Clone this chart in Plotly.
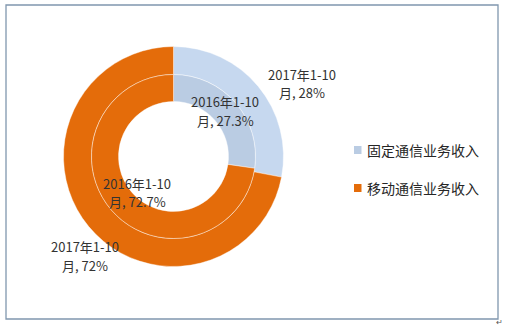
import plotly.graph_objects as go

categories = ["固定通信业务收入", "移动通信业务收入"]
period_2017 = "2017年1-10月"
period_2016 = "2016年1-10月"
values_2017 = [28, 72]
values_2016 = [27.3, 72.7]

W, H = 506, 327
FONT = "Noto Sans CJK SC, Noto Sans, sans-serif"

def px_x(x):
    return x / W

def px_y(y):
    return (H - y) / H

cx, cy = 173.5, 156.5
r_out, r_mid, r_in = 110, 82, 55

outer_colors = ["#C6D8EF", "#E46C0A"]
inner_colors = ["#BACCE3", "#E46C0A"]

fig = go.Figure()
fig.add_trace(go.Pie(
    labels=categories, values=values_2017, name=period_2017,
    hole=r_mid / r_out, sort=False, direction="clockwise", rotation=0,
    marker=dict(colors=outer_colors, line=dict(color="rgba(255,255,255,0.6)", width=0.7)),
    textinfo="none", hoverinfo="label+percent", showlegend=False,
    domain=dict(x=[px_x(cx - r_out), px_x(cx + r_out)],
                y=[px_y(cy + r_out), px_y(cy - r_out)]),
))
fig.add_trace(go.Pie(
    labels=categories, values=values_2016, name=period_2016,
    hole=r_in / r_mid, sort=False, direction="clockwise", rotation=0,
    marker=dict(colors=inner_colors, line=dict(color="rgba(255,255,255,0.6)", width=0.7)),
    textinfo="none", hoverinfo="label+percent", showlegend=False,
    domain=dict(x=[px_x(cx - r_mid), px_x(cx + r_mid)],
                y=[px_y(cy + r_mid), px_y(cy - r_mid)]),
))

def fmt(v):
    return ("%g" % v) + "%"

def label_lines(period, v):
    head, tail = period[:-1], period[-1]
    return [head, f"{tail}, {fmt(v)}"]

# (period, value, center x, first line y, second line y) in pixels
label_pos = [
    (period_2017, values_2017[0], 302, 74, 92),
    (period_2016, values_2016[0], 225, 101.5, 120),
    (period_2016, values_2016[1], 137, 183, 201),
    (period_2017, values_2017[1], 85, 246.5, 265),
]
annotations = []
for period, v, x, y1, y2 in label_pos:
    for txt, y in zip(label_lines(period, v), (y1, y2)):
        annotations.append(dict(
            text=txt, x=px_x(x), y=px_y(y), xref="paper", yref="paper",
            showarrow=False, xanchor="center", yanchor="middle", align="center",
            font=dict(family=FONT, size=13, color="#333333"),
        ))

shapes = []
leg_y = [150, 188]
for cat, col, y in zip(categories, inner_colors, leg_y):
    shapes.append(dict(type="rect", xref="paper", yref="paper",
                       x0=px_x(354), x1=px_x(361.5), y0=px_y(y + 4), y1=px_y(y - 4),
                       fillcolor=col, line=dict(width=0)))
    annotations.append(dict(
        text=cat, x=px_x(365), y=px_y(y), xref="paper", yref="paper",
        showarrow=False, xanchor="left", yanchor="middle",
        font=dict(family=FONT, size=14, color="#262626"),
    ))

shapes.append(dict(type="rect", xref="paper", yref="paper",
                   x0=px_x(6), x1=px_x(498), y0=px_y(319), y1=px_y(5),
                   line=dict(color="#8097AE", width=1.3), fillcolor="rgba(0,0,0,0)"))
annotations.append(dict(text="↵", x=px_x(505), y=px_y(321), xref="paper", yref="paper",
                        showarrow=False, xanchor="right", yanchor="middle",
                        font=dict(family=FONT, size=8, color="#555555")))

fig.update_layout(
    width=W, height=H, margin=dict(l=0, r=0, t=0, b=0),
    paper_bgcolor="white", plot_bgcolor="white",
    showlegend=False, annotations=annotations, shapes=shapes,
)
fig.write_html("out.html")
